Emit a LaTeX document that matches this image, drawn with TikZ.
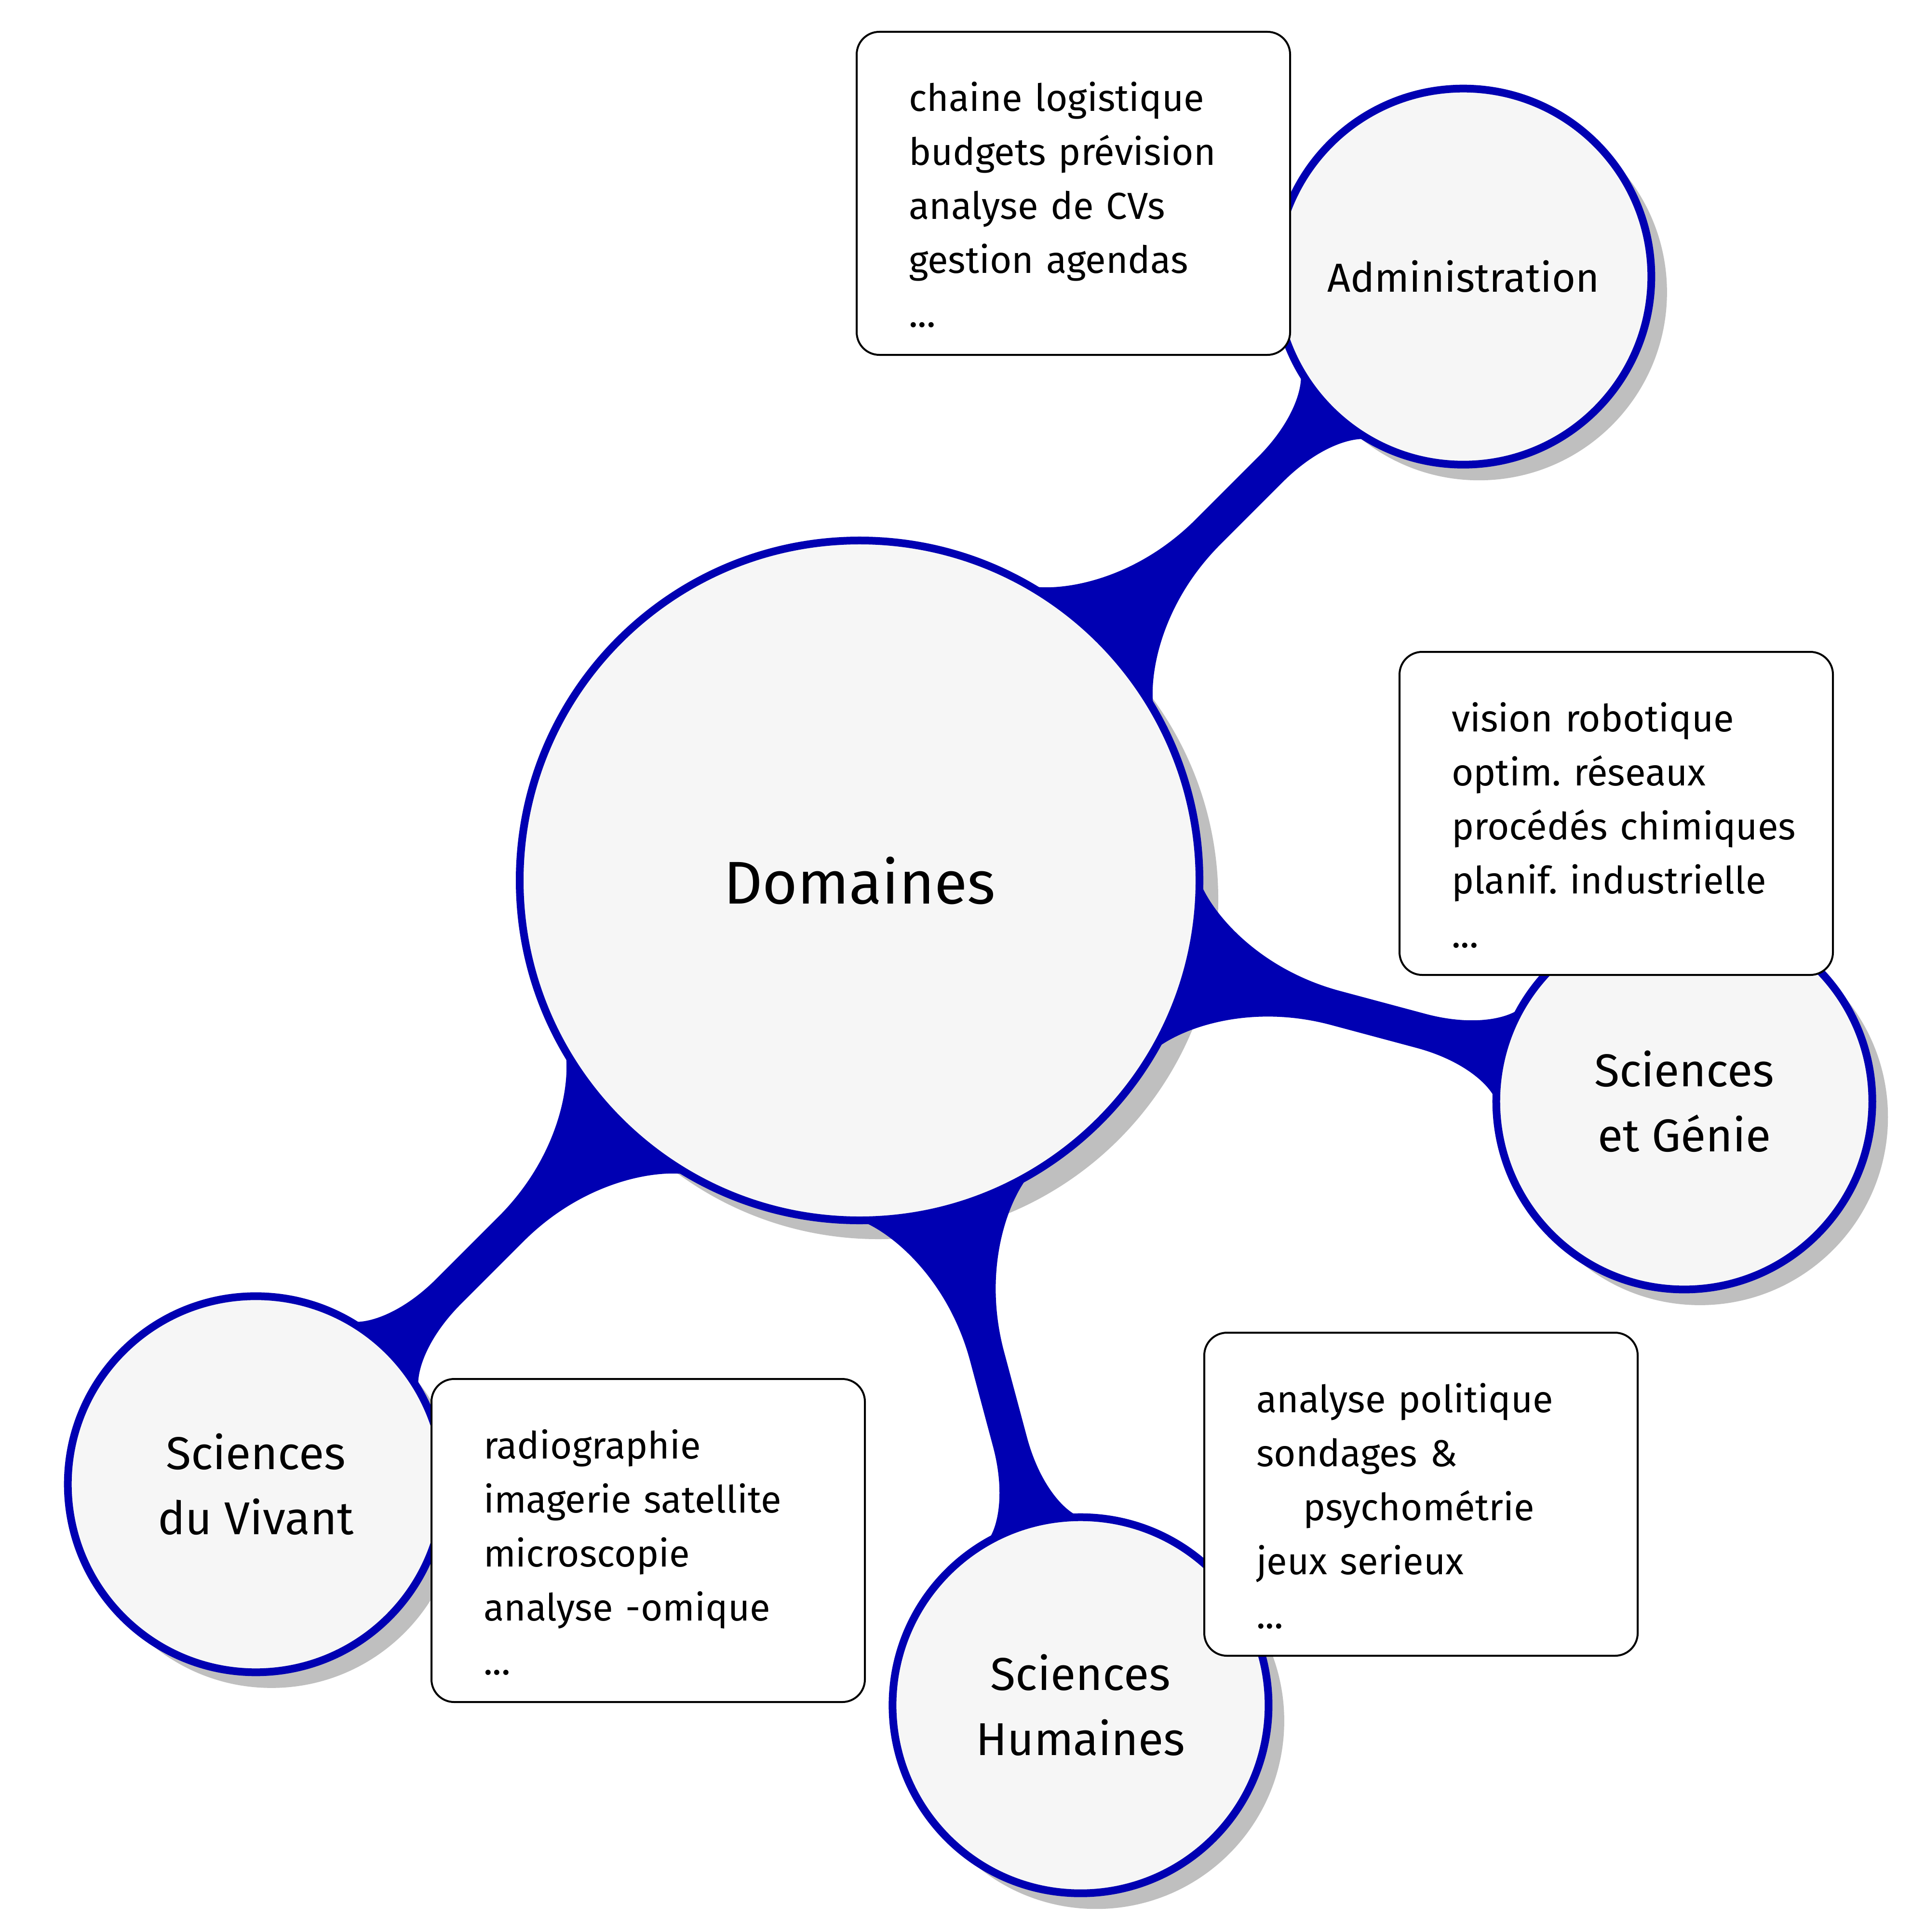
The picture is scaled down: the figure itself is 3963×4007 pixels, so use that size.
\documentclass[tikz,border=0pt]{standalone}
\usepackage{fontspec}
\setmainfont{Fira Sans}
\usetikzlibrary{calc}
\pgfdeclarelayer{shadowlayer}
\pgfdeclarelayer{barlayer}
\pgfsetlayers{shadowlayer,barlayer,main}
\definecolor{ringblue}{RGB}{0,0,178}
\definecolor{conceptfill}{RGB}{246,246,246}
\definecolor{shadowgray}{RGB}{191,191,191}
\def\cbh{7.3pt}
\newcommand\conbar[5]{%
  \pgfmathsetmacro\cbAr{#4}%
  \pgfmathsetmacro\cbBr{#5}%
  \pgfmathsetmacro\cbAk{0.1*#4}%
  \pgfmathsetmacro\cbBk{0.1*#5}%
  \pgfmathsetmacro\cbAc{1.2*#4}%
  \pgfmathsetmacro\cbAe{1.45*#4}%
  \pgfmathsetmacro\cbBc{1.2*#5}%
  \pgfmathsetmacro\cbBe{1.45*#5}%
  \pgfmathsetmacro\cbN{#3+90}%
  \pgfmathsetmacro\cbS{#3-90}%
  \pgfmathsetmacro\cbR{#3+180}%
  \pgfmathsetmacro\cbAU{#3+15}%
  \pgfmathsetmacro\cbAD{#3-15}%
  \pgfmathsetmacro\cbAUc{#3-55}%
  \pgfmathsetmacro\cbADc{#3+55}%
  \pgfmathsetmacro\cbBU{#3+165}%
  \pgfmathsetmacro\cbBD{#3+195}%
  \pgfmathsetmacro\cbBUc{#3+235}%
  \pgfmathsetmacro\cbBDc{#3+125}%
  \fill[barstyle]
    ($(#1.center)+(\cbAU:\cbAr pt)$)
    .. controls ($(#1.center)+(\cbAU:\cbAr pt)+(\cbAUc:\cbAk pt)$)
    and ($(#1.center)+(#3:\cbAc pt)+(\cbN:\cbh)$)
    .. ($(#1.center)+(#3:\cbAe pt)+(\cbN:\cbh)$)
    -- ($(#2.center)+(\cbR:\cbBe pt)+(\cbN:\cbh)$)
    .. controls ($(#2.center)+(\cbR:\cbBc pt)+(\cbN:\cbh)$)
    and ($(#2.center)+(\cbBU:\cbBr pt)+(\cbBUc:\cbBk pt)$)
    .. ($(#2.center)+(\cbBU:\cbBr pt)$)
    -- (#2.center)
    -- ($(#2.center)+(\cbBD:\cbBr pt)$)
    .. controls ($(#2.center)+(\cbBD:\cbBr pt)+(\cbBDc:\cbBk pt)$)
    and ($(#2.center)+(\cbR:\cbBc pt)+(\cbS:\cbh)$)
    .. ($(#2.center)+(\cbR:\cbBe pt)+(\cbS:\cbh)$)
    -- ($(#1.center)+(#3:\cbAe pt)+(\cbS:\cbh)$)
    .. controls ($(#1.center)+(#3:\cbAc pt)+(\cbS:\cbh)$)
    and ($(#1.center)+(\cbAD:\cbAr pt)+(\cbADc:\cbAk pt)$)
    .. ($(#1.center)+(\cbAD:\cbAr pt)$)
    -- (#1.center) -- cycle;
}
\begin{document}
\frenchspacing
\begin{tikzpicture}[x=0.2pt,y=-0.2pt,
  concept/.style={circle, draw=ringblue, line width=3.2pt, fill=conceptfill,
    inner sep=0pt, align=center, text=black},
  bigconcept/.style={concept, minimum size=282pt, font=\fontsize{25}{31}\selectfont},
  subconcept/.style={concept, minimum size=156pt, font=\fontsize{19.1}{27}\selectfont},
  admconcept/.style={subconcept, font=\fontsize{16.8}{27}\selectfont},
  annot/.style={draw=black, line width=0.8pt, fill=white, rounded corners=9.4pt,
    anchor=north west, text width=136.6pt, inner xsep=21.6pt, inner ysep=0pt,
    text height=33pt, text depth=101pt, align=left,
    font=\fontsize{15.6}{22.4}\selectfont},
  barstyle/.style={fill=ringblue},
  shadowstyle/.style={fill=shadowgray}]
\useasboundingbox (0,0) rectangle (3963,4007);
% concepts
\node[bigconcept] (dom) at (1783,1826) {Domaines};
\node[admconcept] (adm) at ($(dom.center)+(45:354.2pt)$) {Administration};
\node[subconcept] (seg) at ($(dom.center)+(-15:354.2pt)$) {Sciences\\et Génie};
\node[subconcept] (sh) at ($(dom.center)+(-75:354.2pt)$) {Sciences\\Humaines};
\node[subconcept] (sdv) at ($(dom.center)+(-135:354.2pt)$) {Sciences\\du Vivant};
% shadows
\begin{pgfonlayer}{shadowlayer}
\fill[shadowstyle] ($(dom.center)+(7.8pt,-7.8pt)$) circle[radius=141pt];
\foreach \n in {adm,seg,sh,sdv}
  \fill[shadowstyle] ($(\n.center)+(6.5pt,-6.5pt)$) circle[radius=78pt];
\end{pgfonlayer}
% connection bars
\begin{pgfonlayer}{barlayer}
\conbar{dom}{adm}{45}{141}{78}
\conbar{dom}{seg}{-15}{141}{78}
\conbar{dom}{sh}{-75}{141}{78}
\conbar{dom}{sdv}{-135}{141}{78}
\end{pgfonlayer}
% annotations
\node[annot] (admnote) at (1775,64) {\mbox{chaine logistique}\\\mbox{budgets prévision}\\\mbox{analyse de CVs}\\\mbox{gestion agendas}\\...};
\node[annot] (segnote) at (2901,1350) {\mbox{vision robotique}\\\mbox{optim. réseaux}\\\mbox{procédés chimiques}\\\mbox{planif. industrielle}\\...};
\node[annot] (shnote) at (2496,2762) {\mbox{analyse politique}\\\mbox{sondages \&}\\\mbox{\hspace*{19.4pt}psychométrie}\\\mbox{jeux serieux}\\...};
\node[annot] (sdvnote) at (893,2858) {\mbox{radiographie}\\\mbox{imagerie satellite}\\\mbox{microscopie}\\\mbox{analyse -omique}\\...};
\end{tikzpicture}
\end{document}
